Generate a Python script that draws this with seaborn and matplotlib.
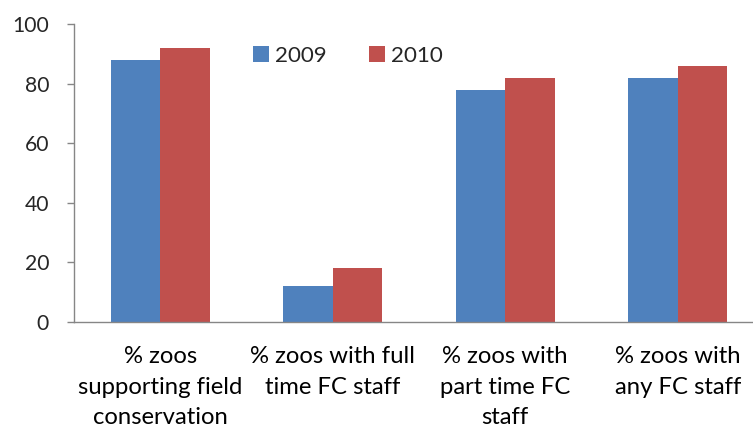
import matplotlib
matplotlib.use("Agg")
import matplotlib.pyplot as plt
from matplotlib.font_manager import FontProperties
import seaborn as sns
import pandas as pd

categories = ["% zoos\nsupporting field\nconservation",
              "% zoos with full\ntime FC staff",
              "% zoos with\npart time FC\nstaff",
              "% zoos with\nany FC staff"]
years = ["2009", "2010"]
values_2009 = [88, 12, 78, 82]
values_2010 = [92, 18, 82, 86]
yticks = [0, 20, 40, 60, 80, 100]

df = pd.DataFrame({
    "cat": categories * 2,
    "year": [years[0]] * 4 + [years[1]] * 4,
    "val": values_2009 + values_2010,
})

sns.set_theme(style="white")
FAM = ['Lato', 'DejaVu Sans']
plt.rcParams['font.family'] = FAM

W, H, DPI = 753, 430, 100
fig = plt.figure(figsize=(W / DPI, H / DPI), dpi=DPI)
renderer = fig.canvas.get_renderer()


def measure(text, size):
    fp = FontProperties(family=FAM, size=size)
    return renderer.get_text_width_height_descent(text, fp, ismath=False)


def fit(text, target_px, base=15.0):
    w, _, _ = measure(text, base)
    return base * target_px / w


xfs = fit("% zoos with full", 165)
yfs = fit("100", 37)
lfs = fit("2009", 52)
px_per_pt = DPI / 72.0

ax = fig.add_axes([74 / W, 108 / H, 690 / W, 298 / H])

sns.barplot(data=df, x="cat", y="val", hue="year", order=categories,
            hue_order=years, palette=["#4F81BD", "#C0504D"],
            width=0.575, gap=0, ax=ax, linewidth=0, saturation=1)

ax.set_xlim(-0.5, 3.5)
ax.set_ylim(0, 100)
ax.set_yticks(yticks)
ax.set_yticklabels([str(v) for v in yticks], fontsize=yfs)
ax.set_xlabel("")
ax.set_ylabel("")

_, lh, ld = measure("lp", xfs)
asc = lh - ld
linesp = (30.5 - ld) / asc
xpad = (363 - 322 - asc) / px_per_pt

ax.set_xticks(range(4))
ax.set_xticklabels(categories, fontsize=xfs, linespacing=linesp)
ax.set_xticks([-0.5, 0.5, 1.5, 2.5, 3.5], minor=True)
ax.tick_params(axis="x", which="major", length=0, pad=xpad, colors="black")
ax.tick_params(axis="x", which="minor", length=7 / px_per_pt, width=1,
               color="#868686", direction="out")
ax.tick_params(axis="y", which="major", length=7 / px_per_pt, width=1,
               color="#868686", direction="out", pad=18 / px_per_pt, left=True)

for s in ["top", "right"]:
    ax.spines[s].set_visible(False)
for s in ["left", "bottom"]:
    ax.spines[s].set_color("#868686")
    ax.spines[s].set_linewidth(1)

lem = lfs * px_per_pt
leg = ax.legend(loc="center left", bbox_to_anchor=(253 / W, 1 - 55.5 / H),
                bbox_transform=fig.transFigure, ncol=2, frameon=False,
                fontsize=lfs, handlelength=16 / lem, handleheight=16 / lem,
                columnspacing=42 / lem, handletextpad=6 / lem,
                borderpad=0, borderaxespad=0)

fig.savefig("out.png", dpi=DPI)
